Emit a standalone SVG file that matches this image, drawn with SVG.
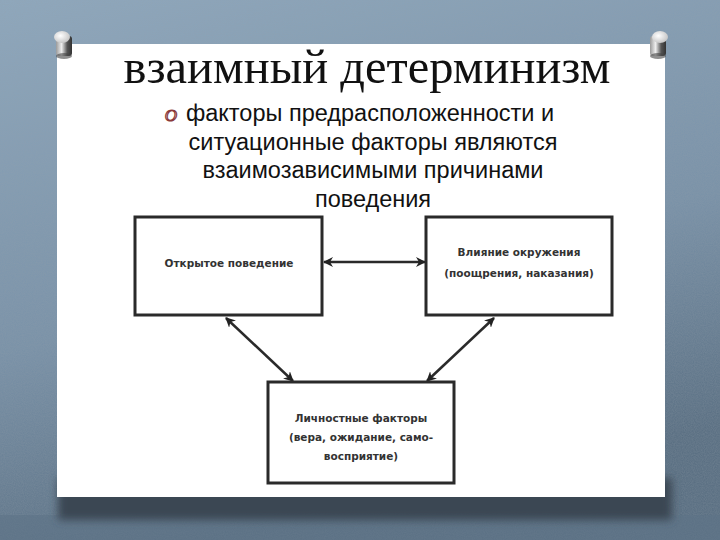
<svg xmlns="http://www.w3.org/2000/svg" width="720" height="540" viewBox="0 0 720 540">
<defs>
<linearGradient id="bg" x1="0" y1="0" x2="0.3" y2="1">
<stop offset="0" stop-color="#8ea8be"/>
<stop offset="0.6" stop-color="#7891a8"/>
<stop offset="1" stop-color="#566c80"/>
</linearGradient>
<filter id="noise" x="0" y="0" width="100%" height="100%">
<feTurbulence type="fractalNoise" baseFrequency="0.9" numOctaves="2" seed="3" result="n"/>
<feColorMatrix type="matrix" values="0 0 0 0 0.3  0 0 0 0 0.35  0 0 0 0 0.4  0 0 0 0.35 0" in="n"/>
</filter>
<linearGradient id="pin" x1="0" y1="0" x2="1" y2="0">
<stop offset="0" stop-color="#9a9a9a"/>
<stop offset="0.35" stop-color="#eeeeee"/>
<stop offset="0.7" stop-color="#555"/>
<stop offset="1" stop-color="#333"/>
</linearGradient>
<radialGradient id="pinhead" cx="0.4" cy="0.4" r="0.6">
<stop offset="0" stop-color="#ffffff"/>
<stop offset="1" stop-color="#c8c8c8"/>
</radialGradient>
<filter id="blur" x="-20%" y="-50%" width="140%" height="200%"><feGaussianBlur stdDeviation="4"/></filter>
<marker id="ah" viewBox="0 0 10 10" refX="9" refY="5" markerWidth="4" markerHeight="4" orient="auto-start-reverse" markerUnits="strokeWidth">
<path d="M0,0 L10,5 L0,10 L3,5 Z" fill="#222"/>
</marker>
<style>
.box{fill:#fff;stroke:#2a2a2a;stroke-width:3}
.conn{stroke:#2a2a2a;stroke-width:2.5;fill:none;marker-start:url(#ah);marker-end:url(#ah)}
.lbl{font-family:"DejaVu Sans",sans-serif;font-size:10.5px;font-weight:bold;fill:#333;text-anchor:middle}
.body{font-family:"Liberation Sans",Arial,sans-serif;font-size:23.5px;fill:#111;text-anchor:middle}
</style>
</defs>
<rect width="720" height="540" fill="url(#bg)"/>
<rect width="720" height="540" filter="url(#noise)"/>
<rect x="0" y="515" width="720" height="25" fill="#5d7387" opacity="0.6"/>
<rect x="58" y="478" width="614" height="42" fill="#3a4752" filter="url(#blur)"/>
<rect x="57" y="44" width="608" height="453" fill="#ffffff"/>
<g id="pin-left">
<rect x="56" y="36" width="16" height="20" rx="3" fill="url(#pin)"/>
<ellipse cx="64" cy="56" rx="8" ry="3" fill="#444" opacity="0.6"/>
<ellipse cx="62" cy="37" rx="8" ry="6" fill="url(#pinhead)"/>
</g>
<g id="pin-right">
<rect x="650" y="36" width="16" height="20" rx="3" fill="url(#pin)"/>
<ellipse cx="658" cy="56" rx="8" ry="3" fill="#444" opacity="0.6"/>
<ellipse cx="660" cy="37" rx="8" ry="6" fill="url(#pinhead)"/>
</g>
<text x="367" y="83" font-family="Liberation Serif,serif" font-size="48.5" fill="#111" text-anchor="middle">взаимный детерминизм</text>
<text x="171" y="121" font-family="Liberation Serif,serif" font-style="italic" font-size="17" fill="#fff" stroke="#8b3a3a" stroke-width="1.2" text-anchor="middle">O</text>
<text class="body" x="370" y="121">факторы предрасположенности и</text>
<text class="body" x="373" y="150">ситуационные факторы являются</text>
<text class="body" x="373" y="178">взаимозависимыми причинами</text>
<text class="body" x="373" y="207">поведения</text>
<g id="connectors">
<line class="conn" x1="324" y1="262" x2="425" y2="262"/>
<line class="conn" x1="226" y1="318" x2="293" y2="381"/>
<line class="conn" x1="494" y1="318" x2="427" y2="381"/>
</g>
<g id="node-behavior">
<rect class="box" x="135" y="217" width="187" height="98"/>
<text class="lbl" x="229" y="267">Открытое поведение</text>
</g>
<g id="node-environment">
<rect class="box" x="426" y="217" width="186" height="98"/>
<text class="lbl" x="519" y="256">Влияние окружения</text>
<text class="lbl" x="519" y="277">(поощрения, наказания)</text>
</g>
<g id="node-personal">
<rect class="box" x="268" y="382" width="186" height="101"/>
<text class="lbl" x="361" y="422">Личностные факторы</text>
<text class="lbl" x="361" y="441">(вера, ожидание, само-</text>
<text class="lbl" x="361" y="460">восприятие)</text>
</g>
</svg>
